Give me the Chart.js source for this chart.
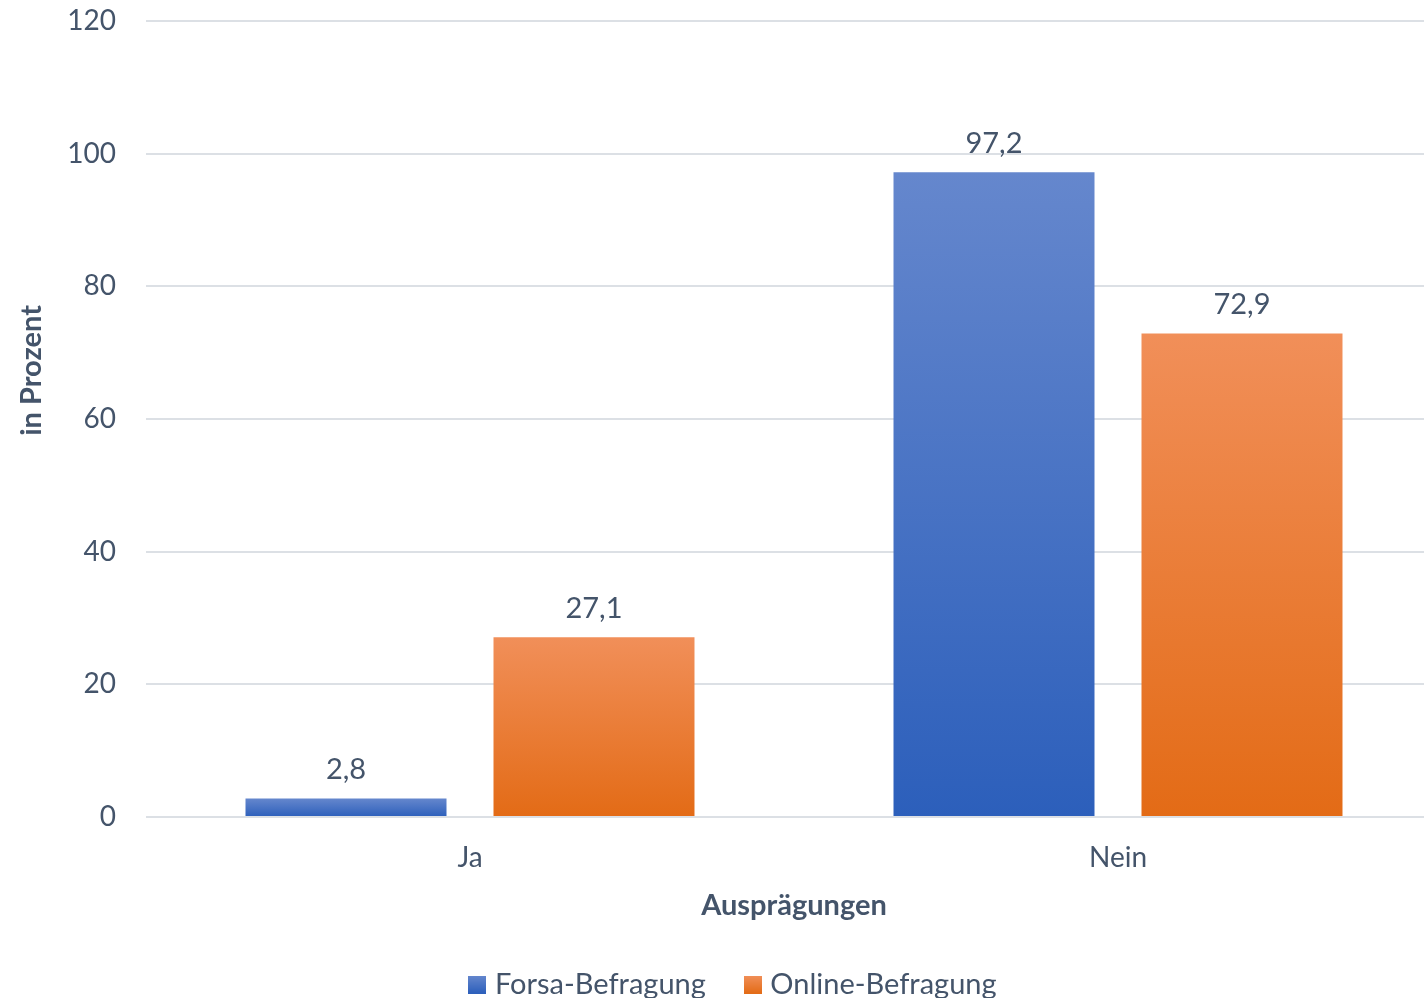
<!DOCTYPE html>
<html lang="de">
<head>
<meta charset="utf-8">
<script src="https://cdn.jsdelivr.net/npm/chart.js@4.4.1/dist/chart.umd.min.js"></script>
<style>
  html, body { margin: 0; padding: 0; background: #ffffff; overflow: hidden; }
  #wrap { width: 1471px; height: 1009px; }
</style>
</head>
<body>
<div id="wrap"><canvas id="chart" width="1471" height="1009"></canvas></div>
<script>
// Antwortkategorien und Anteile je Befragung (in Prozent)
const categories = ['Ja', 'Nein'];
const forsaValues = [2.8, 97.2];
const onlineValues = [27.1, 72.9];
const seriesNames = ['Forsa-Befragung', 'Online-Befragung'];
const yAxisTitle = 'in Prozent';
const xAxisTitle = 'Ausprägungen';

const TEXT = '#44546A';
const FONT = 'Lato, "Open Sans", sans-serif';
const SIZE = 29;
const BLUE = ['#6587CD', '#2C5FBB'];
const ORANGE = ['#F18F59', '#E36B16'];

// vertical gradient running from the top of each bar down to its base
function barGradient(ctx, colors) {
  const chart = ctx.chart;
  if (!chart.chartArea || ctx.type !== 'data') return colors[1];
  const y = chart.scales.y;
  const top = y.getPixelForValue(ctx.raw);
  const base = y.getPixelForValue(0);
  if (!isFinite(top) || !isFinite(base) || top === base) return colors[1];
  const g = chart.ctx.createLinearGradient(0, top, 0, base);
  g.addColorStop(0, colors[0]);
  g.addColorStop(1, colors[1]);
  return g;
}

// small gradient square used as the legend marker
function legendSwatch(colors) {
  const c = document.createElement('canvas');
  c.width = 18; c.height = 18;
  const x = c.getContext('2d');
  const g = x.createLinearGradient(0, 0, 0, 18);
  g.addColorStop(0, colors[0]);
  g.addColorStop(1, colors[1]);
  x.fillStyle = g;
  x.fillRect(0, 0, 18, 18);
  return c;
}

const fmt = v => v.toLocaleString('de-DE', { minimumFractionDigits: 1, maximumFractionDigits: 1 });

// value labels above the bars
const valueLabels = {
  id: 'valueLabels',
  afterDatasetsDraw(chart) {
    const { ctx } = chart;
    ctx.save();
    ctx.font = SIZE + 'px ' + FONT;
    ctx.fillStyle = TEXT;
    ctx.textAlign = 'center';
    ctx.textBaseline = 'bottom';
    chart.data.datasets.forEach((ds, i) => {
      chart.getDatasetMeta(i).data.forEach((bar, j) => {
        ctx.fillText(fmt(ds.data[j]), bar.x, bar.y - 14);
      });
    });
    ctx.restore();
  }
};

// rotated title of the value axis, placed in the left margin
const valueAxisTitle = {
  id: 'valueAxisTitle',
  afterDraw(chart) {
    const { ctx, chartArea } = chart;
    ctx.save();
    ctx.font = 'bold ' + SIZE + 'px ' + FONT;
    ctx.fillStyle = TEXT;
    ctx.textAlign = 'center';
    ctx.textBaseline = 'middle';
    ctx.translate(chart.scales.y.left + 32, chartArea.top + chartArea.height * 0.439);
    ctx.rotate(-Math.PI / 2);
    ctx.fillText(yAxisTitle, 0, 0);
    ctx.restore();
  }
};

new Chart(document.getElementById('chart'), {
  type: 'bar',
  data: {
    labels: categories,
    datasets: [
      {
        label: seriesNames[0],
        data: forsaValues,
        backgroundColor: ctx => barGradient(ctx, BLUE),
        pointStyle: legendSwatch(BLUE),
        categoryPercentage: 0.7654,
        barPercentage: 0.8105
      },
      {
        label: seriesNames[1],
        data: onlineValues,
        backgroundColor: ctx => barGradient(ctx, ORANGE),
        pointStyle: legendSwatch(ORANGE),
        categoryPercentage: 0.7654,
        barPercentage: 0.8105
      }
    ]
  },
  options: {
    responsive: false,
    animation: false,
    layout: { padding: 0 },
    scales: {
      y: {
        min: 0,
        max: 120,
        ticks: { stepSize: 20, color: TEXT, font: { family: FONT, size: 28 }, padding: 30 },
        grid: { color: '#DCE0E5', lineWidth: 2, drawTicks: false },
        border: { display: false },
        afterFit(scale) {
          scale.width = 146;
          scale.paddingTop = 21;
          scale.paddingBottom = 0;
        }
      },
      yRight: {
        axis: 'y',
        position: 'right',
        ticks: { display: false },
        grid: { display: false },
        border: { display: false },
        afterFit(scale) {
          scale.width = 29;
          scale.paddingTop = 0;
          scale.paddingBottom = 0;
        }
      },
      x: {
        ticks: { color: TEXT, font: { family: FONT, size: 28 }, padding: 24 },
        grid: { display: false, drawTicks: false },
        border: { display: false },
        title: {
          display: true,
          text: xAxisTitle,
          color: TEXT,
          font: { family: FONT, size: SIZE, weight: 'bold' },
          padding: { top: 0, bottom: 3 }
        },
        afterFit(scale) {
          scale.height = 109;
          scale.paddingLeft = 0;
          scale.paddingRight = 0;
        }
      }
    },
    plugins: {
      legend: {
        position: 'bottom',
        labels: {
          usePointStyle: true,
          color: TEXT,
          font: { family: FONT, size: SIZE },
          padding: 44,
          boxWidth: 6
        }
      },
      tooltip: { enabled: false }
    }
  },
  plugins: [valueLabels, valueAxisTitle]
});
</script>
</body>
</html>
